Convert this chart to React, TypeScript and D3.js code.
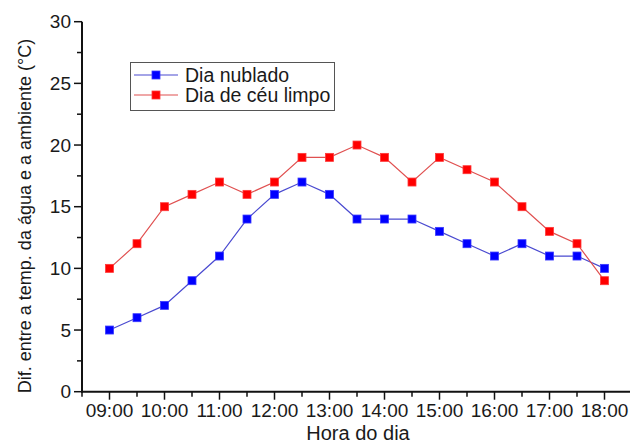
import React from "react";
import * as d3 from "d3";

const times = ["09:00","09:30","10:00","10:30","11:00","11:30","12:00","12:30","13:00","13:30","14:00","14:30","15:00","15:30","16:00","16:30","17:00","17:30","18:00"];
const nublado = [5, 6, 7, 9, 11, 14, 16, 17, 16, 14, 14, 14, 13, 12, 11, 12, 11, 11, 10];
const limpo = [10, 12, 15, 16, 17, 16, 17, 19, 19, 20, 19, 17, 19, 18, 17, 15, 13, 12, 9];
const xTickLabels = ["09:00","10:00","11:00","12:00","13:00","14:00","15:00","16:00","17:00","18:00"];
const yTicks = [0, 5, 10, 15, 20, 25, 30];
const seriesNames = ["Dia nublado", "Dia de céu limpo"];

const toHour = (t: string) => {
  const [h, m] = t.split(":").map(Number);
  return h + m / 60;
};

const W = 630, H = 446;
const FONT = "'Liberation Sans', Arial, sans-serif";

export default function App() {
  const x = d3.scaleLinear().domain([8.5, 18.5]).range([82, 632]);
  const y = d3.scaleLinear().domain([0, 30]).range([391.7, 21.7]);
  const line = d3.line<[number, number]>().x(d => x(d[0])).y(d => y(d[1]));
  const blue = nublado.map((v, i) => [toHour(times[i]), v] as [number, number]);
  const red = limpo.map((v, i) => [toHour(times[i]), v] as [number, number]);
  const minorY = d3.range(2.5, 30, 5);
  const allXTicks = d3.range(8.5, 18.51, 0.5);
  const ms = 8;
  const textColor = "#1a1a1a";

  const series = [
    { data: blue, fill: "#0000ff", stroke: "#4a4ad0", mstroke: "#3a3aff" },
    { data: red, fill: "#ff0000", stroke: "#e05050", mstroke: "#ff3a3a" },
  ];

  return (
    <div style={{ position: "absolute", left: 0, top: 0 }}>
      <svg width={W} height={H} style={{ display: "block", background: "#fff" }} fontFamily={FONT}>
        {/* series */}
        {series.map((s, si) => (
          <g key={si}>
            <path d={line(s.data) || ""} fill="none" stroke={s.stroke} strokeWidth={1.2} />
            {s.data.map((d, i) => (
              <rect key={i} x={x(d[0]) - ms / 2} y={y(d[1]) - ms / 2} width={ms} height={ms}
                fill={s.fill} stroke={s.mstroke} strokeWidth={0.8} />
            ))}
          </g>
        ))}
        {/* axes */}
        <line x1={82} x2={82} y1={y(30)} y2={y(0) + 1} stroke="#111" strokeWidth={2} />
        <line x1={81} x2={632} y1={y(0)} y2={y(0)} stroke="#111" strokeWidth={2} />
        {yTicks.map(t => (
          <g key={"y" + t}>
            <line x1={74} x2={82} y1={y(t)} y2={y(t)} stroke="#111" strokeWidth={1.5} />
            <text x={71} y={y(t)} dy="0.35em" textAnchor="end" fontSize={19} fill={textColor}>{t}</text>
          </g>
        ))}
        {minorY.map(t => (
          <line key={"my" + t} x1={77} x2={82} y1={y(t)} y2={y(t)} stroke="#111" strokeWidth={1.5} />
        ))}
        {allXTicks.map((t, i) => {
          const major = Math.abs(t - Math.round(t)) < 1e-6;
          return (
            <line key={"xt" + i} x1={x(t)} x2={x(t)} y1={y(0)} y2={y(0) + (major ? 8 : 5)} stroke="#111" strokeWidth={1.5} />
          );
        })}
        {xTickLabels.map(l => (
          <text key={l} x={x(toHour(l))} y={417} textAnchor="middle" fontSize={19} fill={textColor}>{l}</text>
        ))}
        <text x={358} y={440} textAnchor="middle" fontSize={20} fill={textColor}>Hora do dia</text>
        <text transform={`translate(31, 216) rotate(-90)`} textAnchor="middle" fontSize={18} fill={textColor}>
          Dif. entre a temp. da água e a ambiente (°C)
        </text>
        {/* legend */}
        <rect x={130.5} y={62.5} width={204} height={48} fill="#fff" stroke="#555" strokeWidth={1} />
        {seriesNames.map((n, i) => {
          const cy = 75 + i * 20;
          const s = series[i];
          return (
            <g key={n}>
              <line x1={134} x2={178} y1={cy} y2={cy} stroke={s.stroke} strokeWidth={1.2} />
              <rect x={156 - ms / 2} y={cy - ms / 2} width={ms} height={ms} fill={s.fill} stroke={s.mstroke} strokeWidth={0.8} />
              <text x={185} y={cy + 7} fontSize={19.5} fill={textColor}>{n}</text>
            </g>
          );
        })}
      </svg>
    </div>
  );
}
